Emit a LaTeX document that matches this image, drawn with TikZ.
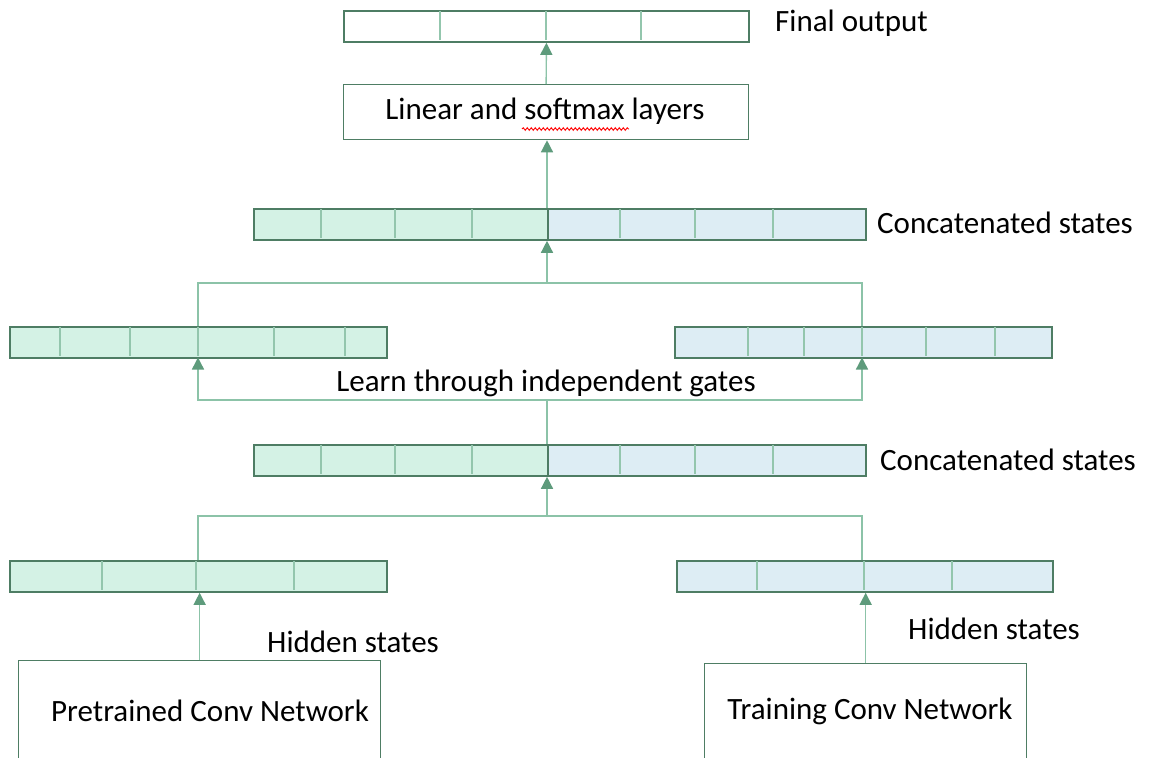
\documentclass[tikz,border=0pt]{standalone}
\usepackage{fontspec}
\setmainfont{Carlito}
\usetikzlibrary{arrows.meta,decorations.pathmorphing}
\definecolor{outl}{HTML}{4E7D64}
\definecolor{divc}{HTML}{93C6AD}
\definecolor{conc}{HTML}{8CC3A8}
\definecolor{tipc}{HTML}{5E9B7C}
\definecolor{gfill}{HTML}{D4F2E5}
\definecolor{bfill}{HTML}{DDEDF4}
\begin{document}
\begin{tikzpicture}[x=1pt,y=-1pt,
  bar/.style={draw=outl,line width=1.8pt,minimum height=31pt,inner sep=0pt,anchor=north west},
  gbar/.style={bar,fill=gfill},
  bbar/.style={bar,fill=bfill},
  wbox/.style={draw=outl,line width=1.3pt,inner sep=0pt,anchor=north west},
  divl/.style={draw=divc,line width=1.4pt},
  conn/.style={draw=conc,line width=1.4pt},
  arr/.style={-{Triangle[width=12pt,length=12pt,color=tipc]}},
  larr/.style={{Triangle[width=12pt,length=12pt,color=tipc]}-{Triangle[width=12pt,length=12pt,color=tipc]}},
  lbl/.style={font=\fontsize{31}{36}\selectfont,inner sep=0pt,anchor=west}]
\useasboundingbox (0,0) rectangle (1150,757);
\clip (0,0) rectangle (1150,757);

% top output bar
\node[bar,minimum width=405pt] (out) at (343,10) {};
\foreach \x in {440,546,641} \draw[divl] (\x,11) -- (\x,40);
\node[lbl] (fo) at (775,23) {Final output};

% linear box
\node[wbox,minimum width=405pt,minimum height=55pt] (lin) at (343,84) {};
\node[lbl,anchor=center] (lint) at (545,111) {Linear and softmax layers};
\draw[red,line width=0.9pt,decorate,decoration={snake,amplitude=1.3pt,segment length=4pt}] (522,129) -- (629,129);

% concatenated states 1
\node[gbar,minimum width=294pt] (cg1) at (253,208) {};
\node[bbar,minimum width=318pt] (cb1) at (547,208) {};
\foreach \x in {321,395,472,620,695,773} \draw[divl] (\x,209) -- (\x,238);
\node[lbl] (cs1) at (877,223) {Concatenated states};

% middle bars
\node[gbar,minimum width=377pt] (ml) at (9,326) {};
\foreach \x in {60,130,198,274,345} \draw[divl] (\x,327) -- (\x,356);
\node[bbar,minimum width=377pt] (mr) at (674,326) {};
\foreach \x in {748,804,862,926,995} \draw[divl] (\x,327) -- (\x,356);
\node[lbl,anchor=center] (lg) at (546,383) {Learn through independent gates};

% concatenated states 2
\node[gbar,minimum width=294pt] (cg2) at (253,444) {};
\node[bbar,minimum width=318pt] (cb2) at (547,444) {};
\foreach \x in {321,395,472,620,695,773} \draw[divl] (\x,445) -- (\x,474);
\node[lbl] (cs2) at (880,460) {Concatenated states};

% bottom bars
\node[gbar,minimum width=377pt] (bl) at (9,560) {};
\foreach \x in {102,196,294} \draw[divl] (\x,561) -- (\x,590);
\node[bbar,minimum width=376pt] (br) at (676,560) {};
\foreach \x in {757,864,952} \draw[divl] (\x,561) -- (\x,590);

% conv boxes
\node[wbox,minimum width=362pt,minimum height=140pt] (pc) at (18,660) {};
\node[lbl,anchor=center] (pct) at (210,711) {Pretrained Conv Network};
\node[wbox,minimum width=322pt,minimum height=140pt] (tc) at (704,663) {};
\node[lbl,anchor=center] (tct) at (870,711) {Training Conv Network};
\node[lbl] (hs1) at (267,642) {Hidden states};
\node[lbl] (hs2) at (908,629) {Hidden states};

% junction coordinates
\coordinate (j1) at (547,283);
\coordinate (j2) at (547,400);
\coordinate (j3) at (547,516);
\coordinate (mlt) at (198,326);
\coordinate (mrt) at (862,326);
\coordinate (mlb) at (198,357.5);
\coordinate (mrb) at (862,357.5);
\coordinate (blt) at (198,560);
\coordinate (brt) at (862,560);

% connectors
\draw[conn,arr] (lin.north) -- (out.south);
\draw[conn,arr] (j1 |- cg1.north) -- (j1 |- lin.south);
\draw[conn] (mlt) |- (j1) -| (mrt);
\draw[conn,arr] (j1) -- (j1 |- cg1.south);
\draw[conn,larr] (mlb) |- (j2) -| (mrb);
\draw[conn] (j2 |- cg2.north) -- (j2);
\draw[conn] (blt) |- (j3) -| (brt);
\draw[conn,arr] (j3) -- (j3 |- cg2.south);
\draw[conn,arr] (pc.north) -- (pc.north |- bl.south);
\draw[conn,arr] (tc.north) -- (tc.north |- br.south);
\end{tikzpicture}
\end{document}
